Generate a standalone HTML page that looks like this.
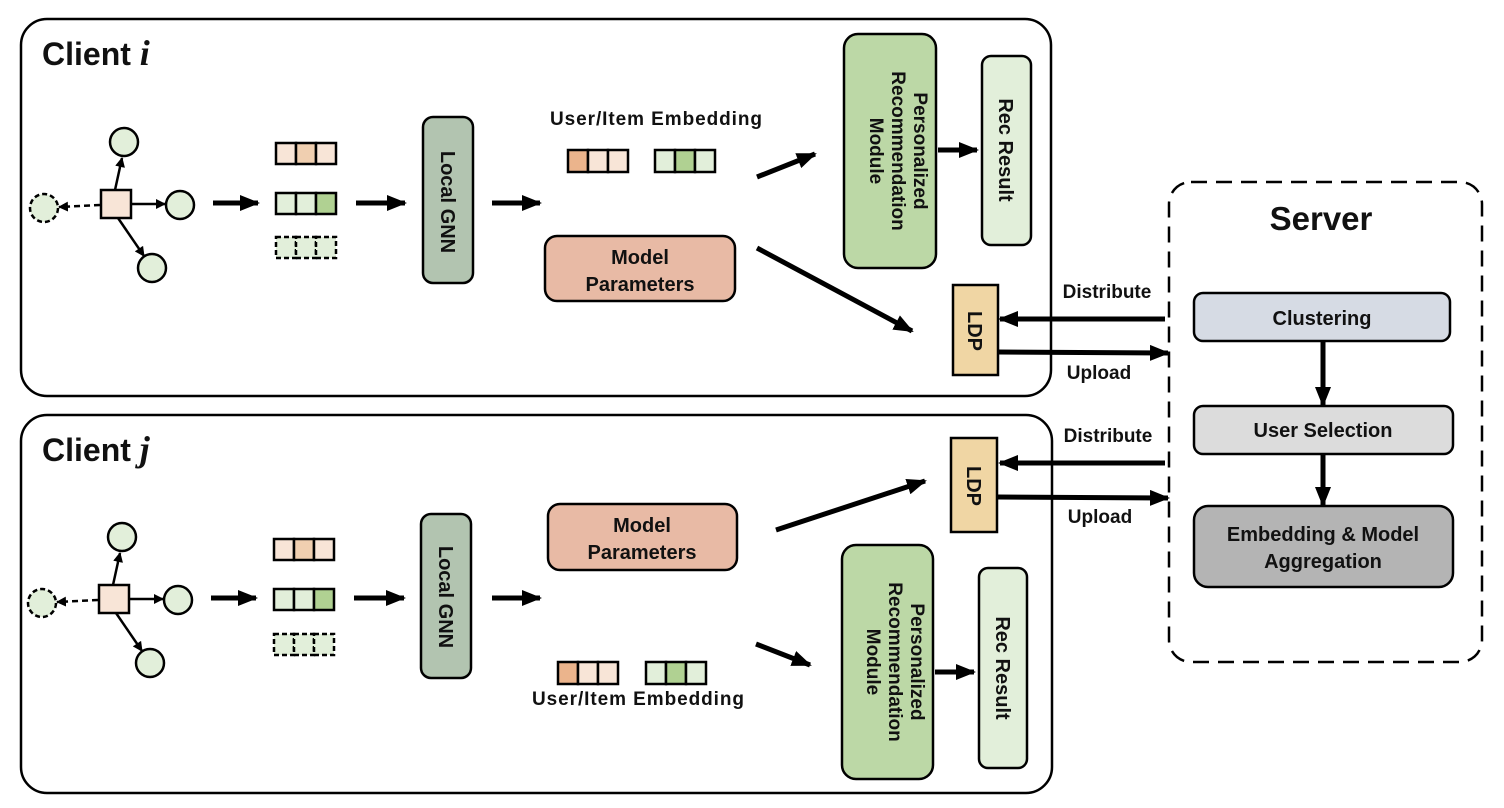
<!DOCTYPE html>
<html><head><meta charset="utf-8"><style>
html,body{margin:0;padding:0;background:#fff}
svg{display:block}
text{font-family:"Liberation Sans",sans-serif;font-weight:bold;fill:#111}
</style></head><body>
<svg width="1504" height="808" viewBox="0 0 1504 808" xmlns="http://www.w3.org/2000/svg">
<defs>
<marker id="ah" markerUnits="userSpaceOnUse" markerWidth="20" markerHeight="16" refX="18" refY="8" orient="auto"><path d="M0,0 L20,8 L0,16 z" fill="#000"/></marker>
<marker id="as" markerUnits="userSpaceOnUse" markerWidth="10" markerHeight="10" refX="9" refY="5" orient="auto"><path d="M0,0 L10,5 L0,10 z" fill="#000"/></marker>
</defs>

<rect x="21" y="19" width="1030" height="377" rx="26" fill="none" stroke="#000" stroke-width="2.5"/>
<rect x="21" y="415" width="1031" height="378" rx="26" fill="none" stroke="#000" stroke-width="2.5"/>
<text x="42" y="65" font-size="32">Client <tspan font-family="Liberation Serif" font-style="italic" font-size="36">i</tspan></text>
<text x="42" y="461" font-size="32">Client <tspan font-family="Liberation Serif" font-style="italic" font-size="36">j</tspan></text>

<rect x="1169" y="182" width="313" height="480" rx="22" fill="none" stroke="#000" stroke-width="2.5" stroke-dasharray="16,9"/>
<text x="1321" y="230" font-size="33" text-anchor="middle">Server</text>
<rect x="1194" y="293" width="256" height="48" rx="9" fill="#d6dbe4" stroke="#000" stroke-width="2.5"/>
<text x="1322" y="325" font-size="20" text-anchor="middle">Clustering</text>
<rect x="1194" y="406" width="259" height="48" rx="9" fill="#dcdcdc" stroke="#000" stroke-width="2.5"/>
<text x="1323" y="437" font-size="20" text-anchor="middle">User Selection</text>
<rect x="1194" y="506" width="259" height="81" rx="14" fill="#b4b4b4" stroke="#000" stroke-width="2.5"/>
<text x="1323" y="541" font-size="20" text-anchor="middle">Embedding &amp; Model</text>
<text x="1323" y="568" font-size="20" text-anchor="middle">Aggregation</text>
<line x1="1323" y1="342" x2="1323" y2="405" stroke="#000" stroke-width="5" marker-end="url(#ah)"/>
<line x1="1323" y1="455" x2="1323" y2="505" stroke="#000" stroke-width="5" marker-end="url(#ah)"/>

<line x1="1165" y1="319" x2="1000" y2="319" stroke="#000" stroke-width="5" marker-end="url(#ah)"/>
<line x1="998" y1="352" x2="1168" y2="353" stroke="#000" stroke-width="5" marker-end="url(#ah)"/>
<text x="1107" y="298" font-size="19" text-anchor="middle">Distribute</text>
<text x="1099" y="379" font-size="19" text-anchor="middle">Upload</text>
<line x1="1165" y1="463" x2="1000" y2="463" stroke="#000" stroke-width="5" marker-end="url(#ah)"/>
<line x1="998" y1="497" x2="1168" y2="498" stroke="#000" stroke-width="5" marker-end="url(#ah)"/>
<text x="1108" y="442" font-size="19" text-anchor="middle">Distribute</text>
<text x="1100" y="523" font-size="19" text-anchor="middle">Upload</text>

<g id="gi">
<line x1="115" y1="190" x2="122" y2="158" stroke="#000" stroke-width="2.5" marker-end="url(#as)"/>
<line x1="131" y1="204" x2="165" y2="204" stroke="#000" stroke-width="2.5" marker-end="url(#as)"/>
<line x1="118" y1="218" x2="144" y2="256" stroke="#000" stroke-width="2.5" marker-end="url(#as)"/>
<line x1="100" y1="205" x2="59" y2="207" stroke="#000" stroke-width="2.5" stroke-dasharray="6,4" marker-end="url(#as)"/>
<circle cx="124" cy="142" r="14" fill="#e2efda" stroke="#000" stroke-width="2.5"/>
<circle cx="180" cy="205" r="14" fill="#e2efda" stroke="#000" stroke-width="2.5"/>
<circle cx="152" cy="268" r="14" fill="#e2efda" stroke="#000" stroke-width="2.5"/>
<circle cx="44" cy="208" r="14" fill="#e2efda" stroke="#000" stroke-width="2.5" stroke-dasharray="5,3"/>
<rect x="101" y="190" width="30" height="28" fill="#f8e5d7" stroke="#000" stroke-width="2.5"/>
</g>
<line x1="213" y1="203" x2="258" y2="203" stroke="#000" stroke-width="5" marker-end="url(#ah)"/>
<g stroke="#000" stroke-width="2.5">
<rect x="276" y="143" width="20" height="21" fill="#f8e5d7"/><rect x="296" y="143" width="20" height="21" fill="#f0cfb0"/><rect x="316" y="143" width="20" height="21" fill="#f8e5d7"/>
<rect x="276" y="193" width="20" height="21" fill="#e2efda"/><rect x="296" y="193" width="20" height="21" fill="#e2efda"/><rect x="316" y="193" width="20" height="21" fill="#b0d192"/>
<g stroke-dasharray="5,3"><rect x="276" y="237" width="20" height="21" fill="#e2efda"/><rect x="296" y="237" width="20" height="21" fill="#e2efda"/><rect x="316" y="237" width="20" height="21" fill="#e2efda"/></g>
</g>
<line x1="356" y1="203" x2="405" y2="203" stroke="#000" stroke-width="5" marker-end="url(#ah)"/>
<rect x="423" y="117" width="50" height="166" rx="10" fill="#b2c4b0" stroke="#000" stroke-width="2.5"/>
<text transform="translate(441,202) rotate(90)" font-size="20" text-anchor="middle">Local GNN</text>
<line x1="492" y1="203" x2="540" y2="203" stroke="#000" stroke-width="5" marker-end="url(#ah)"/>
<text x="656" y="125" font-size="19" text-anchor="middle" textLength="212">User/Item Embedding</text>
<g stroke="#000" stroke-width="2.5">
<rect x="568" y="150" width="20" height="22" fill="#ebb48c"/><rect x="588" y="150" width="20" height="22" fill="#f8e5d7"/><rect x="608" y="150" width="20" height="22" fill="#f8e5d7"/>
<rect x="655" y="150" width="20" height="22" fill="#e2efda"/><rect x="675" y="150" width="20" height="22" fill="#b0d192"/><rect x="695" y="150" width="20" height="22" fill="#e2efda"/>
</g>
<rect x="545" y="236" width="190" height="65" rx="12" fill="#e8baa5" stroke="#000" stroke-width="2.5"/>
<text x="640" y="264" font-size="20" text-anchor="middle">Model</text>
<text x="640" y="291" font-size="20" text-anchor="middle">Parameters</text>
<line x1="757" y1="177" x2="815" y2="154" stroke="#000" stroke-width="5" marker-end="url(#ah)"/>
<line x1="757" y1="248" x2="912" y2="331" stroke="#000" stroke-width="5" marker-end="url(#ah)"/>
<rect x="844" y="34" width="92" height="234" rx="14" fill="#bcd8a6" stroke="#000" stroke-width="2.5"/>
<g transform="translate(890,151) rotate(90)" font-size="19">
<text x="0" y="-24" text-anchor="middle">Personalized</text>
<text x="0" y="-2" text-anchor="middle">Recommendation</text>
<text x="0" y="20" text-anchor="middle">Module</text>
</g>
<line x1="938" y1="150" x2="977" y2="150" stroke="#000" stroke-width="5" marker-end="url(#ah)"/>
<rect x="982" y="56" width="49" height="189" rx="9" fill="#e2efda" stroke="#000" stroke-width="2.5"/>
<text transform="translate(999,150) rotate(90)" font-size="20" text-anchor="middle">Rec Result</text>
<rect x="953" y="285" width="45" height="90" fill="#f0d6a4" stroke="#000" stroke-width="2.5"/>
<text transform="translate(968,331) rotate(90)" font-size="20" text-anchor="middle">LDP</text>

<g transform="translate(-2,395)"><use href="#gi"/></g>
<line x1="211" y1="598" x2="256" y2="598" stroke="#000" stroke-width="5" marker-end="url(#ah)"/>
<g stroke="#000" stroke-width="2.5">
<rect x="274" y="539" width="20" height="21" fill="#f8e5d7"/><rect x="294" y="539" width="20" height="21" fill="#f0cfb0"/><rect x="314" y="539" width="20" height="21" fill="#f8e5d7"/>
<rect x="274" y="589" width="20" height="21" fill="#e2efda"/><rect x="294" y="589" width="20" height="21" fill="#e2efda"/><rect x="314" y="589" width="20" height="21" fill="#b0d192"/>
<g stroke-dasharray="5,3"><rect x="274" y="634" width="20" height="21" fill="#e2efda"/><rect x="294" y="634" width="20" height="21" fill="#e2efda"/><rect x="314" y="634" width="20" height="21" fill="#e2efda"/></g>
</g>
<line x1="354" y1="598" x2="404" y2="598" stroke="#000" stroke-width="5" marker-end="url(#ah)"/>
<rect x="421" y="514" width="50" height="164" rx="10" fill="#b2c4b0" stroke="#000" stroke-width="2.5"/>
<text transform="translate(439,597) rotate(90)" font-size="20" text-anchor="middle">Local GNN</text>
<line x1="492" y1="598" x2="540" y2="598" stroke="#000" stroke-width="5" marker-end="url(#ah)"/>
<rect x="548" y="504" width="189" height="66" rx="12" fill="#e8baa5" stroke="#000" stroke-width="2.5"/>
<text x="642" y="532" font-size="20" text-anchor="middle">Model</text>
<text x="642" y="559" font-size="20" text-anchor="middle">Parameters</text>
<line x1="776" y1="530" x2="925" y2="481" stroke="#000" stroke-width="5" marker-end="url(#ah)"/>
<g stroke="#000" stroke-width="2.5">
<rect x="558" y="662" width="20" height="22" fill="#ebb48c"/><rect x="578" y="662" width="20" height="22" fill="#f8e5d7"/><rect x="598" y="662" width="20" height="22" fill="#f8e5d7"/>
<rect x="646" y="662" width="20" height="22" fill="#e2efda"/><rect x="666" y="662" width="20" height="22" fill="#b0d192"/><rect x="686" y="662" width="20" height="22" fill="#e2efda"/>
</g>
<text x="638" y="705" font-size="19" text-anchor="middle" textLength="212">User/Item Embedding</text>
<line x1="756" y1="644" x2="810" y2="665" stroke="#000" stroke-width="5" marker-end="url(#ah)"/>
<rect x="842" y="545" width="91" height="234" rx="14" fill="#bcd8a6" stroke="#000" stroke-width="2.5"/>
<g transform="translate(887,662) rotate(90)" font-size="19">
<text x="0" y="-24" text-anchor="middle">Personalized</text>
<text x="0" y="-2" text-anchor="middle">Recommendation</text>
<text x="0" y="20" text-anchor="middle">Module</text>
</g>
<line x1="935" y1="672" x2="974" y2="672" stroke="#000" stroke-width="5" marker-end="url(#ah)"/>
<rect x="979" y="568" width="48" height="200" rx="9" fill="#e2efda" stroke="#000" stroke-width="2.5"/>
<text transform="translate(996,668) rotate(90)" font-size="20" text-anchor="middle">Rec Result</text>
<rect x="951" y="438" width="46" height="94" fill="#f0d6a4" stroke="#000" stroke-width="2.5"/>
<text transform="translate(967,486) rotate(90)" font-size="20" text-anchor="middle">LDP</text>
</svg>
</body></html>
